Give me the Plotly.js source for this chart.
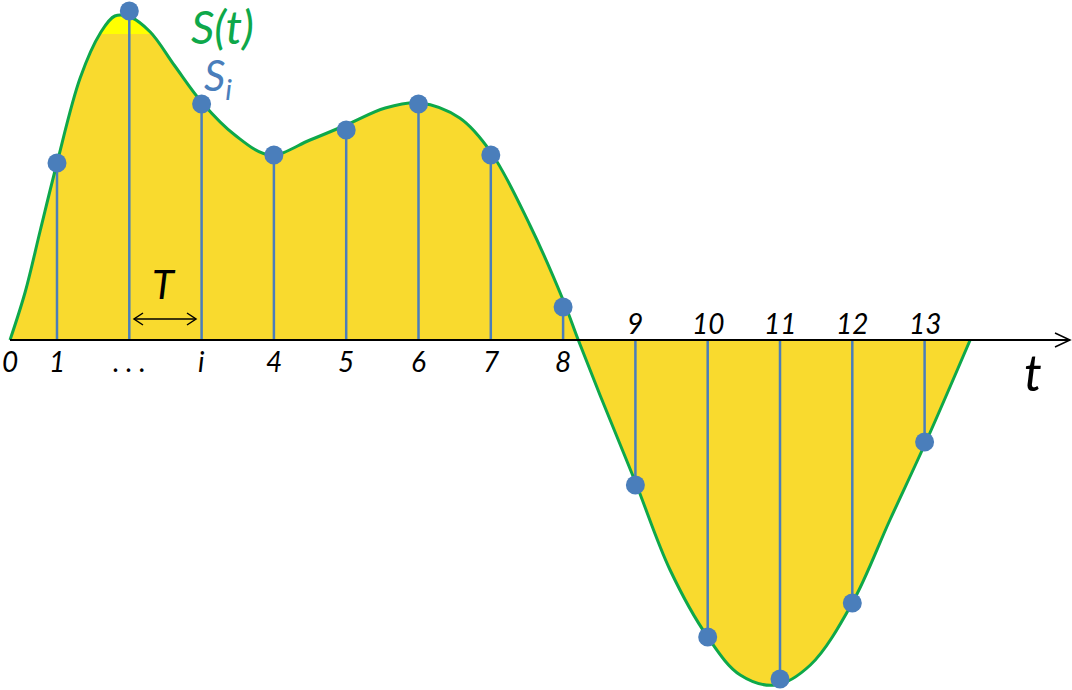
<!DOCTYPE html>
<html>
<head>
<meta charset="utf-8">
<script src="https://cdn.plot.ly/plotly-3.0.1.min.js"></script>
<style>html,body{margin:0;padding:0;background:#fff;}#chart{width:1072px;height:690px;}</style>
</head>
<body>
<div id="chart"></div>
<script>
// Sample instants and sampled values S_i
const sampleT = [1, 2, 3, 4, 5, 6, 7, 8, 9, 10, 11, 12, 13];
const sampleS = [1.77, 3.29, 2.36, 1.85, 2.10, 2.36, 1.85, 0.33, -1.45, -2.97, -3.39, -2.63, -1.02];

// Continuous signal S(t)
const curveT = [0.35, 0.56, 0.77, 1.0, 1.32, 1.6, 1.8, 2.01, 2.29, 2.63, 3.0, 3.46, 3.95, 4.5, 5.0, 5.54, 6.02, 6.57, 7.0, 7.54, 8.0, 8.21, 8.51, 9.0, 9.48, 10.0, 10.45, 10.94, 11.42, 12.0, 12.52, 13.03, 13.63];
const curveS = [0.0, 0.48, 1.10, 1.77, 2.62, 3.07, 3.24, 3.23, 3.08, 2.74, 2.38, 2.05, 1.85, 2.00, 2.15, 2.32, 2.37, 2.22, 1.88, 1.15, 0.40, 0.0, -0.55, -1.42, -2.30, -2.97, -3.35, -3.45, -3.25, -2.63, -1.80, -1.00, 0.0];

// Brighter cap of the fill at the peak
const capT = [1.58, 1.70, 1.80, 1.92, 2.01, 2.12, 2.22, 2.34, 1.58];
const capS = [3.06, 3.18, 3.24, 3.25, 3.23, 3.19, 3.13, 3.06, 3.06];

// Tick labels along the time axis
const tickT = [0.35, 1, 2, 3, 4, 5, 6, 7, 8, 9, 10, 11, 12, 13];
const tickText = ['0', '1', '. . .', 'i', '4', '5', '6', '7', '8', '9', '10', '11', '12', '13'];

const W = 1072, H = 690;
const px = x => x / W;
const py = y => 1 - y / H;

const yellow = '#F9DA2E';
const green = '#0EA84A';
const blue = '#4A7EBB';

const stemX = [], stemY = [];
sampleT.forEach((t, i) => { stemX.push(t, t, null); stemY.push(0, sampleS[i], null); });

const traces = [
  { x: curveT, y: curveS, type: 'scatter', mode: 'lines', line: { shape: 'spline', width: 0, color: yellow }, fill: 'tozeroy', fillcolor: yellow, hoverinfo: 'skip' },
  { x: capT, y: capS, type: 'scatter', mode: 'lines', line: { width: 0 }, fill: 'toself', fillcolor: '#FFFF00', hoverinfo: 'skip' },
  { x: stemX, y: stemY, type: 'scatter', mode: 'lines', line: { color: blue, width: 2.5 }, hoverinfo: 'skip' },
  { x: curveT, y: curveS, type: 'scatter', mode: 'lines', line: { shape: 'spline', width: 3, color: green }, hoverinfo: 'skip' },
  { x: sampleT, y: sampleS, type: 'scatter', mode: 'markers', marker: { color: blue, size: 19 }, hoverinfo: 'skip' }
];

const font = (size, color) => ({ family: 'Lato, "Open Sans", sans-serif', size: size, color: color || '#000', style: 'italic' });

const annotations = tickText.map((txt, i) => {
  const above = tickT[i] >= 9;
  return {
    x: tickT[i], y: 0, xref: 'x', yref: 'y', text: txt, showarrow: false,
    xanchor: 'center', yanchor: 'middle', yshift: above ? 17 : -21,
    font: font(28)
  };
});
annotations.push(
  { x: px(1033), y: py(372), xref: 'paper', yref: 'paper', text: 't', showarrow: false, xanchor: 'center', yanchor: 'middle', font: font(50) },
  { x: px(164), y: py(284), xref: 'paper', yref: 'paper', text: 'T', showarrow: false, xanchor: 'center', yanchor: 'middle', font: font(40) },
  { x: px(222), y: py(27), xref: 'paper', yref: 'paper', text: 'S(t)', showarrow: false, xanchor: 'center', yanchor: 'middle', font: font(46, green) },
  { x: px(218), y: py(78), xref: 'paper', yref: 'paper', text: 'S<sub>i</sub>', showarrow: false, xanchor: 'center', yanchor: 'middle', font: font(42, blue) }
);

const shapes = [
  { type: 'line', xref: 'paper', yref: 'y', x0: px(10), x1: px(1070), y0: 0, y1: 0, line: { color: '#000', width: 2 }, layer: 'above' },
  { type: 'path', xref: 'paper', yref: 'paper', path: `M${px(1055)},${py(333)} L${px(1070)},${py(340)} L${px(1055)},${py(347)}`, line: { color: '#000', width: 1.5 } },
  { type: 'line', xref: 'paper', yref: 'paper', x0: px(134), x1: px(196), y0: py(319), y1: py(319), line: { color: '#000', width: 1.5 } },
  { type: 'path', xref: 'paper', yref: 'paper', path: `M${px(143)},${py(313)} L${px(134)},${py(319)} L${px(143)},${py(325)}`, line: { color: '#000', width: 1.5 } },
  { type: 'path', xref: 'paper', yref: 'paper', path: `M${px(187)},${py(313)} L${px(196)},${py(319)} L${px(187)},${py(325)}`, line: { color: '#000', width: 1.5 } }
];

const layout = {
  width: W, height: H,
  margin: { l: 0, r: 0, t: 0, b: 0 },
  paper_bgcolor: '#fff', plot_bgcolor: '#fff',
  showlegend: false,
  xaxis: { range: [1 - 57 / 72.3, 1 + (W - 57) / 72.3], visible: false, fixedrange: true },
  yaxis: { range: [(340 - H) / 100, 3.4], visible: false, fixedrange: true },
  annotations: annotations,
  shapes: shapes
};

Plotly.newPlot('chart', traces, layout, { staticPlot: true });
</script>
</body>
</html>
